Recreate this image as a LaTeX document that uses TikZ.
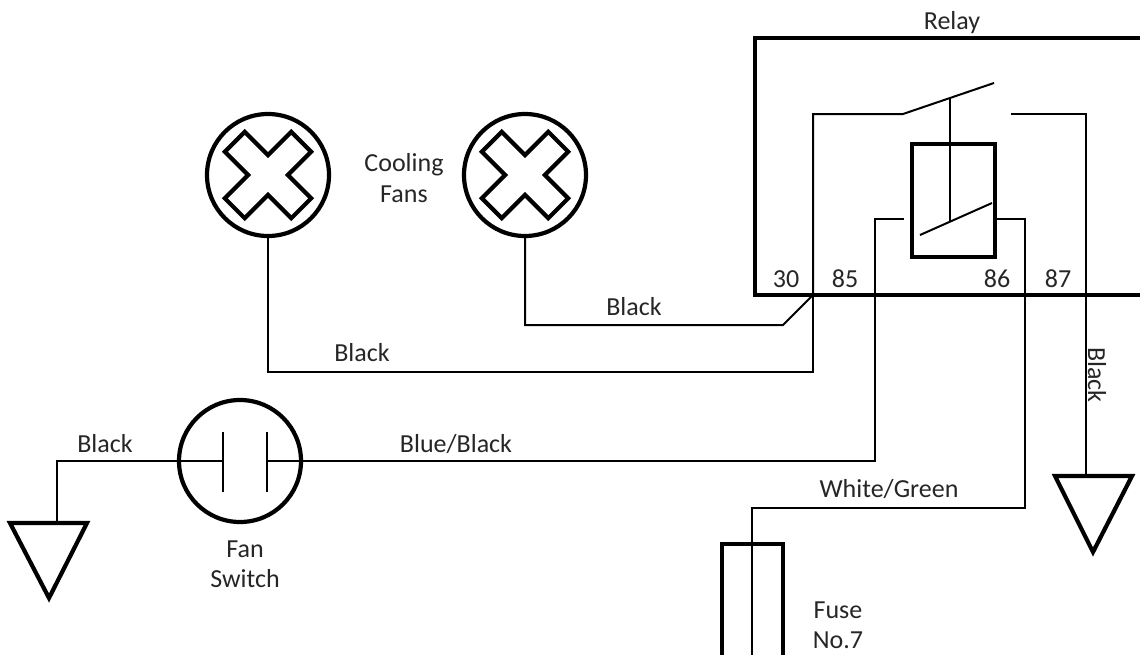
\documentclass[tikz,border=0pt]{standalone}
\usepackage{fontspec}
\setmainfont{Carlito}
\usepackage{xcolor}

\tikzset{
	wire/.style={line width=2pt},
	heavy/.style={line width=4.2pt},
	lbl/.style={font=\fontsize{26}{30.5}\selectfont, text=black!85, align=center, inner sep=0pt},
	fan/.style={circle, draw, line width=4.2pt, minimum size=122pt, inner sep=0pt}
}

\begin{document}
\begin{tikzpicture}[x=1pt, y=-1pt]
		\useasboundingbox (0,0) rectangle (1140,654);
		\clip (0,0) rectangle (1140,654);

		% relay housing and coil
		\draw[heavy] (1160,38) -| (755,295) -- (1160,295);
		\draw[heavy] (912,144) rectangle (995,257);
		\node[lbl, anchor=base] (relay) at (952,29) {Relay};

		\coordinate (p30) at (813,295);
		\coordinate (blade) at (903,114);
		\coordinate (c85) at (904,219);
		\coordinate (k85) at (875,219);
		\coordinate (c86) at (997,219);
		\coordinate (k86) at (1025,219);
		\coordinate (c87) at (1011,114);

		\draw[wire] (p30) |- (blade) -- (994,83);
		\draw[wire] (950,98) -- (950,221);
		\draw[wire] (920,235) -- (992,203);

		\node[lbl, anchor=base] (n30) at (786,287) {30};
		\node[lbl, anchor=base] (n85) at (845,287) {85};
		\node[lbl, anchor=base] (n86) at (997,287) {86};
		\node[lbl, anchor=base] (n87) at (1058,287) {87};

		% cooling fans
		\node[fan] (fanA) at (268,175) {};
		\node[fan] (fanB) at (525,175) {};
		\foreach \f in {fanA,fanB}
			\draw[line width=4.2pt, shift={(\f.center)}, rotate=45]
				(14,14) -- (47,14) -- (47,-14) -- (14,-14) -- (14,-47) -- (-14,-47) -- (-14,-14)
				-- (-47,-14) -- (-47,14) -- (-14,14) -- (-14,47) -- (14,47) -- cycle;
		\node[lbl] (fans) at (404,178) {Cooling\\Fans};

		\coordinate (jA) at (813,372);
		\coordinate (jB) at (783,325);
		\draw[wire] (fanA.south) |- (jA) -- (p30);
		\draw[wire] (fanB.south) |- (jB) -- (p30);
		\node[lbl, anchor=base] (blkB) at (634,315) {Black};
		\node[lbl, anchor=base] (blkA) at (362,361) {Black};

		% fan switch
		\node[fan] (sw) at (240,461) {};
		\coordinate (swL) at (223,461);
		\coordinate (swR) at (267,461);
		\draw[wire] ([yshift=29pt]swL) -- ([yshift=-31pt]swL);
		\draw[wire] ([yshift=29pt]swR) -- ([yshift=-31pt]swR);
		\node[lbl] (swtxt) at (245,564) {Fan\\Switch};

		% grounds
		\coordinate (gndA) at (57,523);
		\draw[heavy] (10,523) -- (87,523) -- (49,598) -- cycle;
		\coordinate (gndB) at (1086,476);
		\draw[heavy] (1055,476) -- (1132,476) -- (1093,552) -- cycle;

		\draw[wire] (swL) -| (gndA);
		\node[lbl, anchor=base] (blkC) at (105,452) {Black};
		\draw[wire] (swR) -| (k85) -- (c85);
		\node[lbl, anchor=base] (bb) at (456,452) {Blue/Black};
		\draw[wire] (c87) -| (gndB);
		\node[lbl, rotate=-90, anchor=base west] (blkD) at (1088,347) {Black};

		% fuse
		\coordinate (fz) at (752,508);
		\coordinate (fzEnd) at (752,670);
		\draw[heavy] (722,680) |- (783,544) -- (783,680);
		\draw[wire] (c86) -- (k86) |- (fz) -- (fzEnd);
		\node[lbl, anchor=base] (wg) at (889,497) {White/Green};
		\node[lbl] (fuse) at (838,625) {Fuse\\No.7};
\end{tikzpicture}
\end{document}
